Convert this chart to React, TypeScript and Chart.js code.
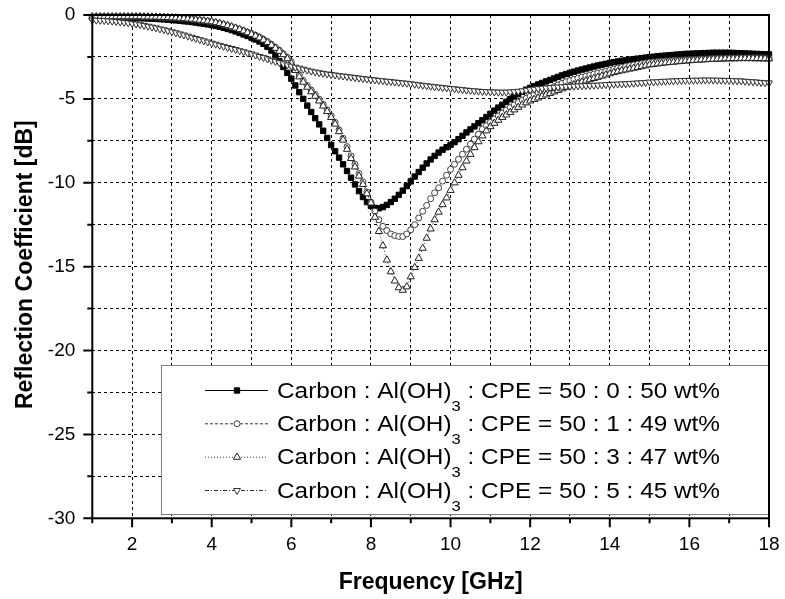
import React, { useEffect, useRef } from 'react';
import { Chart, registerables } from 'chart.js';

Chart.register(...registerables);

// Frequency sweep [GHz]
const FREQ = [
  1, 1.1, 1.2, 1.3, 1.4, 1.5, 1.6, 1.7, 1.8, 1.9,
  2, 2.1, 2.2, 2.3, 2.4, 2.5, 2.6, 2.7, 2.8, 2.9,
  3, 3.1, 3.2, 3.3, 3.4, 3.5, 3.6, 3.7, 3.8, 3.9,
  4, 4.1, 4.2, 4.3, 4.4, 4.5, 4.6, 4.7, 4.8, 4.9,
  5, 5.1, 5.2, 5.3, 5.4, 5.5, 5.6, 5.7, 5.8, 5.9,
  6, 6.1, 6.2, 6.3, 6.4, 6.5, 6.6, 6.7, 6.8, 6.9,
  7, 7.1, 7.2, 7.3, 7.4, 7.5, 7.6, 7.7, 7.8, 7.9,
  8, 8.1, 8.2, 8.3, 8.4, 8.5, 8.6, 8.7, 8.8, 8.9,
  9, 9.1, 9.2, 9.3, 9.4, 9.5, 9.6, 9.7, 9.8, 9.9,
  10, 10.1, 10.2, 10.3, 10.4, 10.5, 10.6, 10.7, 10.8, 10.9,
  11, 11.1, 11.2, 11.3, 11.4, 11.5, 11.6, 11.7, 11.8, 11.9,
  12, 12.1, 12.2, 12.3, 12.4, 12.5, 12.6, 12.7, 12.8, 12.9,
  13, 13.1, 13.2, 13.3, 13.4, 13.5, 13.6, 13.7, 13.8, 13.9,
  14, 14.1, 14.2, 14.3, 14.4, 14.5, 14.6, 14.7, 14.8, 14.9,
  15, 15.1, 15.2, 15.3, 15.4, 15.5, 15.6, 15.7, 15.8, 15.9,
  16, 16.1, 16.2, 16.3, 16.4, 16.5, 16.6, 16.7, 16.8, 16.9,
  17, 17.1, 17.2, 17.3, 17.4, 17.5, 17.6, 17.7, 17.8, 17.9,
  18,
];

// Carbon : Al(OH)3 : CPE = 50 : 0 : 50 wt%
const RC_50_0_50 = [
  -0.15, -0.15, -0.15, -0.15, -0.15, -0.15, -0.16, -0.16, -0.17, -0.17,
  -0.18, -0.19, -0.19, -0.2, -0.21, -0.22, -0.23, -0.25, -0.26, -0.28,
  -0.3, -0.32, -0.34, -0.37, -0.39, -0.42, -0.45, -0.49, -0.52, -0.56,
  -0.6, -0.65, -0.7, -0.76, -0.83, -0.9, -0.98, -1.07, -1.16, -1.25,
  -1.35, -1.46, -1.58, -1.72, -1.9, -2.12, -2.4, -2.75, -3.1, -3.45,
  -3.8, -4.2, -4.6, -5.0, -5.4, -5.78, -6.15, -6.52, -6.9, -7.33,
  -7.75, -8.12, -8.5, -8.9, -9.3, -9.7, -10.1, -10.5, -10.85, -11.15,
  -11.38, -11.5, -11.52, -11.45, -11.32, -11.15, -10.95, -10.72, -10.47, -10.2,
  -9.92, -9.63, -9.36, -9.1, -8.85, -8.61, -8.4, -8.2, -8.03, -7.88,
  -7.74, -7.58, -7.4, -7.2, -7.0, -6.82, -6.64, -6.45, -6.27, -6.08,
  -5.89, -5.7, -5.52, -5.35, -5.18, -5.02, -4.86, -4.72, -4.58, -4.45,
  -4.34, -4.24, -4.14, -4.05, -3.96, -3.87, -3.78, -3.69, -3.6, -3.52,
  -3.45, -3.38, -3.31, -3.25, -3.19, -3.13, -3.07, -3.01, -2.96, -2.91,
  -2.86, -2.81, -2.77, -2.73, -2.7, -2.66, -2.63, -2.6, -2.57, -2.54,
  -2.51, -2.49, -2.46, -2.44, -2.42, -2.4, -2.38, -2.36, -2.34, -2.32,
  -2.31, -2.3, -2.29, -2.28, -2.27, -2.26, -2.25, -2.25, -2.25, -2.25,
  -2.25, -2.26, -2.27, -2.28, -2.29, -2.3, -2.31, -2.32, -2.33, -2.34,
  -2.35,
];

// Carbon : Al(OH)3 : CPE = 50 : 1 : 49 wt%
const RC_50_1_49 = [
  -0.1, -0.1, -0.1, -0.1, -0.1, -0.1, -0.1, -0.1, -0.1, -0.1,
  -0.1, -0.1, -0.1, -0.11, -0.11, -0.12, -0.12, -0.13, -0.14, -0.15,
  -0.16, -0.17, -0.19, -0.21, -0.23, -0.25, -0.28, -0.31, -0.34, -0.37,
  -0.4, -0.45, -0.5, -0.56, -0.63, -0.7, -0.77, -0.85, -0.93, -1.02,
  -1.1, -1.2, -1.31, -1.44, -1.58, -1.74, -1.92, -2.1, -2.3, -2.52,
  -2.78, -3.2, -3.58, -3.9, -4.2, -4.47, -4.74, -5.02, -5.32, -5.65,
  -6.0, -6.4, -6.85, -7.35, -7.85, -8.4, -8.9, -9.45, -9.95, -10.55,
  -11.15, -11.7, -12.2, -12.6, -12.85, -13.05, -13.15, -13.2, -13.2, -13.05,
  -12.8, -12.5, -12.1, -11.7, -11.35, -10.95, -10.6, -10.3, -9.9, -9.55,
  -9.2, -8.9, -8.6, -8.3, -8.0, -7.7, -7.4, -7.1, -6.8, -6.6,
  -6.4, -6.2, -6.02, -5.85, -5.68, -5.52, -5.36, -5.22, -5.08, -4.96,
  -4.84, -4.74, -4.64, -4.55, -4.46, -4.37, -4.27, -4.17, -4.07, -3.98,
  -3.91, -3.84, -3.77, -3.7, -3.64, -3.58, -3.52, -3.46, -3.41, -3.35,
  -3.29, -3.23, -3.17, -3.12, -3.07, -3.02, -2.98, -2.94, -2.9, -2.86,
  -2.82, -2.8, -2.78, -2.76, -2.74, -2.73, -2.71, -2.7, -2.68, -2.67,
  -2.66, -2.65, -2.64, -2.63, -2.62, -2.61, -2.6, -2.6, -2.59, -2.59,
  -2.58, -2.58, -2.58, -2.57, -2.57, -2.57, -2.58, -2.58, -2.59, -2.59,
  -2.6,
];

// Carbon : Al(OH)3 : CPE = 50 : 3 : 47 wt%
const RC_50_3_47 = [
  -0.1, -0.1, -0.1, -0.1, -0.1, -0.1, -0.1, -0.1, -0.1, -0.1,
  -0.1, -0.1, -0.1, -0.11, -0.11, -0.12, -0.12, -0.13, -0.14, -0.15,
  -0.16, -0.17, -0.19, -0.21, -0.23, -0.25, -0.28, -0.31, -0.34, -0.37,
  -0.4, -0.45, -0.5, -0.56, -0.63, -0.7, -0.78, -0.86, -0.95, -1.05,
  -1.15, -1.25, -1.36, -1.49, -1.63, -1.8, -1.98, -2.16, -2.36, -2.6,
  -2.88, -3.3, -3.68, -4.0, -4.3, -4.57, -4.84, -5.12, -5.42, -5.75,
  -6.1, -6.5, -6.95, -7.45, -8.0, -8.55, -9.05, -9.6, -10.1, -10.65,
  -11.2, -12.05, -12.9, -13.75, -14.6, -15.3, -15.85, -16.25, -16.4, -16.2,
  -15.6, -15.05, -14.5, -13.9, -13.3, -12.75, -12.2, -11.75, -11.3, -10.9,
  -10.45, -10.0, -9.55, -9.1, -8.7, -8.3, -7.9, -7.55, -7.2, -6.9,
  -6.65, -6.45, -6.27, -6.1, -5.95, -5.8, -5.65, -5.5, -5.36, -5.23,
  -5.12, -5.03, -4.94, -4.85, -4.76, -4.67, -4.58, -4.49, -4.4, -4.31,
  -4.23, -4.15, -4.07, -3.99, -3.92, -3.85, -3.78, -3.71, -3.64, -3.57,
  -3.5, -3.43, -3.37, -3.32, -3.27, -3.22, -3.17, -3.12, -3.07, -3.02,
  -2.97, -2.94, -2.91, -2.88, -2.85, -2.83, -2.81, -2.78, -2.76, -2.74,
  -2.72, -2.7, -2.69, -2.67, -2.66, -2.64, -2.63, -2.62, -2.61, -2.6,
  -2.6, -2.59, -2.59, -2.58, -2.58, -2.58, -2.58, -2.59, -2.59, -2.6,
  -2.6,
];

// Carbon : Al(OH)3 : CPE = 50 : 5 : 45 wt%
const RC_50_5_45 = [
  -0.3, -0.31, -0.32, -0.33, -0.35, -0.37, -0.39, -0.42, -0.44, -0.47,
  -0.5, -0.54, -0.58, -0.62, -0.67, -0.72, -0.77, -0.83, -0.88, -0.94,
  -1.0, -1.06, -1.13, -1.19, -1.26, -1.33, -1.4, -1.47, -1.54, -1.61,
  -1.68, -1.74, -1.81, -1.87, -1.94, -2.0, -2.06, -2.13, -2.19, -2.26,
  -2.32, -2.39, -2.47, -2.54, -2.62, -2.7, -2.77, -2.84, -2.91, -2.98,
  -3.05, -3.11, -3.17, -3.23, -3.29, -3.35, -3.4, -3.44, -3.48, -3.52,
  -3.55, -3.58, -3.61, -3.64, -3.67, -3.7, -3.73, -3.76, -3.79, -3.82,
  -3.85, -3.87, -3.9, -3.92, -3.95, -3.97, -4.0, -4.02, -4.05, -4.07,
  -4.1, -4.13, -4.16, -4.19, -4.22, -4.25, -4.28, -4.3, -4.33, -4.35,
  -4.38, -4.4, -4.43, -4.45, -4.48, -4.5, -4.52, -4.54, -4.56, -4.57,
  -4.58, -4.59, -4.6, -4.6, -4.6, -4.59, -4.57, -4.55, -4.52, -4.48,
  -4.45, -4.42, -4.39, -4.37, -4.35, -4.33, -4.31, -4.29, -4.28, -4.26,
  -4.25, -4.24, -4.23, -4.22, -4.21, -4.2, -4.19, -4.18, -4.17, -4.15,
  -4.14, -4.13, -4.12, -4.11, -4.1, -4.08, -4.07, -4.05, -4.04, -4.02,
  -4.0, -3.99, -3.98, -3.96, -3.95, -3.94, -3.93, -3.92, -3.91, -3.9,
  -3.9, -3.89, -3.89, -3.88, -3.88, -3.88, -3.88, -3.89, -3.89, -3.9,
  -3.9, -3.91, -3.92, -3.93, -3.95, -3.97, -3.98, -4.0, -4.02, -4.04,
  -4.05,
];

const SERIES_VALUES = [RC_50_0_50, RC_50_1_49, RC_50_3_47, RC_50_5_45];

const LEGEND_TEXT = [
  { pre: 'Carbon : Al(OH)', sub: '3', post: ' : CPE = 50 : 0 : 50 wt%' },
  { pre: 'Carbon : Al(OH)', sub: '3', post: ' : CPE = 50 : 1 : 49 wt%' },
  { pre: 'Carbon : Al(OH)', sub: '3', post: ' : CPE = 50 : 3 : 47 wt%' },
  { pre: 'Carbon : Al(OH)', sub: '3', post: ' : CPE = 50 : 5 : 45 wt%' },
];

const X_TITLE = 'Frequency [GHz]';
const Y_TITLE = 'Reflection Coefficient [dB]';

// Visual styles (separate from data)
const STYLES = [
  { line: '#000000', dash: [] as number[], marker: 'rect', rot: 0, r: 3.8, fill: '#000000', stroke: '#000000' },
  { line: '#333333', dash: [3, 2], marker: 'circle', rot: 0, r: 3, fill: '#ffffff', stroke: '#404040' },
  { line: '#333333', dash: [1, 2], marker: 'triangle', rot: 0, r: 4.2, fill: '#ffffff', stroke: '#202020' },
  { line: '#333333', dash: [4, 2, 1, 2], marker: 'triangle', rot: 180, r: 4, fill: '#ffffff', stroke: '#303030' },
];

const FONT = '"Liberation Sans", Arial, Helvetica, sans-serif';

function drawMarker(ctx: CanvasRenderingContext2D, s: any, x: number, y: number) {
  ctx.save();
  ctx.setLineDash([]);
  ctx.lineWidth = 1;
  ctx.fillStyle = s.fill;
  ctx.strokeStyle = s.stroke;
  ctx.beginPath();
  if (s.marker === 'rect') {
    const h = Math.SQRT1_2 * s.r;
    ctx.rect(x - h, y - h, 2 * h, 2 * h);
  } else if (s.marker === 'circle') {
    ctx.arc(x, y, s.r, 0, Math.PI * 2);
  } else {
    let rad = (s.rot * Math.PI) / 180;
    ctx.moveTo(x + Math.sin(rad) * s.r, y - Math.cos(rad) * s.r);
    rad += (2 * Math.PI) / 3;
    ctx.lineTo(x + Math.sin(rad) * s.r, y - Math.cos(rad) * s.r);
    rad += (2 * Math.PI) / 3;
    ctx.lineTo(x + Math.sin(rad) * s.r, y - Math.cos(rad) * s.r);
    ctx.closePath();
  }
  ctx.fill();
  ctx.stroke();
  ctx.restore();
}

const zeroPad = (s: any) => {
  s.paddingTop = 0;
  s.paddingBottom = 0;
  s.paddingLeft = 0;
  s.paddingRight = 0;
};

const framePlugin = {
  id: 'frameTicks',
  afterDatasetsDraw(chart: any) {
    const { ctx, chartArea: a, scales } = chart;
    const xs = scales.x;
    const ys = scales.y;
    ctx.save();
    ctx.strokeStyle = '#000';
    ctx.lineWidth = 2;
    ctx.setLineDash([]);
    ctx.strokeRect(a.left, a.top, a.right - a.left, a.bottom - a.top);
    ctx.beginPath();
    xs.ticks.forEach((t: any) => {
      const px = xs.getPixelForValue(t.value);
      const len = Math.abs(t.value % 2) < 1e-6 ? 9 : 5;
      ctx.moveTo(px, a.bottom);
      ctx.lineTo(px, a.bottom + len);
    });
    ys.ticks.forEach((t: any) => {
      const py = ys.getPixelForValue(t.value);
      const len = Math.abs(t.value % 5) < 1e-6 ? 9 : 5;
      ctx.moveTo(a.left, py);
      ctx.lineTo(a.left - len, py);
    });
    ctx.stroke();
    ctx.restore();
  },
  afterDraw(chart: any) {
    const { ctx, chartArea: a } = chart;
    ctx.save();
    // Axis titles
    ctx.fillStyle = '#000';
    ctx.font = `bold 23px ${FONT}`;
    ctx.textAlign = 'center';
    ctx.textBaseline = 'alphabetic';
    ctx.fillText(X_TITLE, (a.left + a.right) / 2, 589);
    ctx.save();
    ctx.translate(32, (a.top + a.bottom) / 2 - 2);
    ctx.rotate(-Math.PI / 2);
    ctx.fillText(Y_TITLE, 0, 0);
    ctx.restore();

    // Legend box
    const bx = 161.5, by = 365.5, bw = a.right - 161.5, bh = 149;
    ctx.fillStyle = '#fff';
    ctx.fillRect(bx, by, bw, bh);
    ctx.strokeStyle = '#808080';
    ctx.lineWidth = 1;
    ctx.strokeRect(bx, by, bw, bh);
    ctx.strokeStyle = '#000';
    ctx.lineWidth = 2;
    ctx.beginPath();
    ctx.moveTo(a.right, by - 1);
    ctx.lineTo(a.right, a.bottom);
    ctx.stroke();

    const rows = [390, 423.3, 456.7, 490];
    const textX = 277;
    const targetW = 443;
    LEGEND_TEXT.forEach((lt, i) => {
      const s = STYLES[i];
      const y = rows[i];
      ctx.save();
      ctx.strokeStyle = s.line;
      ctx.lineWidth = 1;
      ctx.setLineDash(s.dash);
      ctx.beginPath();
      ctx.moveTo(205, y + 0.5);
      ctx.lineTo(268, y + 0.5);
      ctx.stroke();
      ctx.restore();
      drawMarker(ctx, s, 237, y + 0.5);

      ctx.save();
      ctx.fillStyle = '#000';
      ctx.textAlign = 'left';
      ctx.textBaseline = 'alphabetic';
      ctx.font = `22px ${FONT}`;
      const w1 = ctx.measureText(lt.pre).width;
      const w3 = ctx.measureText(lt.post).width;
      ctx.font = `15px ${FONT}`;
      const w2 = ctx.measureText(lt.sub).width;
      const sx = targetW / (w1 + w2 + w3);
      const base = y + 7.5;
      ctx.translate(textX, base);
      ctx.scale(sx, 1);
      ctx.font = `22px ${FONT}`;
      ctx.fillText(lt.pre, 0, 0);
      ctx.font = `15px ${FONT}`;
      ctx.fillText(lt.sub, w1, 13);
      ctx.font = `22px ${FONT}`;
      ctx.fillText(lt.post, w1 + w2, 0);
      ctx.restore();
    });
    ctx.restore();
  },
};

export default function App() {
  const ref = useRef<HTMLCanvasElement | null>(null);
  useEffect(() => {
    if (!ref.current) return;
    const datasets = SERIES_VALUES.map((vals, i) => {
      const s = STYLES[i];
      return {
        label: LEGEND_TEXT[i].pre + LEGEND_TEXT[i].sub + LEGEND_TEXT[i].post,
        data: FREQ.map((f, j) => ({ x: f, y: vals[j] })),
        borderColor: s.line,
        borderWidth: 1,
        borderDash: s.dash,
        pointStyle: s.marker,
        pointRotation: s.rot,
        pointRadius: s.r,
        pointBackgroundColor: s.fill,
        pointBorderColor: s.stroke,
        pointBorderWidth: 1,
        tension: 0,
        fill: false,
        clip: false as any,
        order: 3 - i,
      };
    });
    const chart = new Chart(ref.current, {
      type: 'line',
      data: { datasets },
      options: {
        responsive: false,
        animation: false,
        devicePixelRatio: 1,
        layout: { padding: { left: 0, right: 16, top: 15, bottom: 0 } },
        plugins: { legend: { display: false }, tooltip: { enabled: false } },
        events: [],
        scales: {
          x: {
            type: 'linear',
            min: 1,
            max: 18,
            afterFit: (s: any) => { s.height = 599 - 518.3; zeroPad(s); },
            ticks: {
              stepSize: 1,
              autoSkip: false,
              maxRotation: 0,
              padding: 15,
              color: '#000',
              font: { family: FONT, size: 19 },
              callback: (v: any) => (Math.abs(Number(v) % 2) < 1e-6 ? String(v) : ''),
            },
            grid: { color: '#000', lineWidth: 1, drawTicks: false },
            border: { display: false, dash: [3, 3] },
          },
          y: {
            type: 'linear',
            min: -30,
            max: 0,
            afterFit: (s: any) => { s.width = 92.3; zeroPad(s); },
            ticks: {
              stepSize: 2.5,
              autoSkip: false,
              padding: 17,
              color: '#000',
              font: { family: FONT, size: 19 },
              callback: (v: any) => (Math.abs(Number(v) % 5) < 1e-6 ? String(v) : ''),
            },
            grid: { color: '#000', lineWidth: 1, drawTicks: false },
            border: { display: false, dash: [3, 3] },
          },
        },
      } as any,
      plugins: [framePlugin as any],
    });
    return () => chart.destroy();
  }, []);
  return (
    <div style={{ position: 'absolute', left: 0, top: 0, width: 785, height: 599, background: '#fff' }}>
      <canvas ref={ref} width={785} height={599} style={{ display: 'block' }} />
    </div>
  );
}
